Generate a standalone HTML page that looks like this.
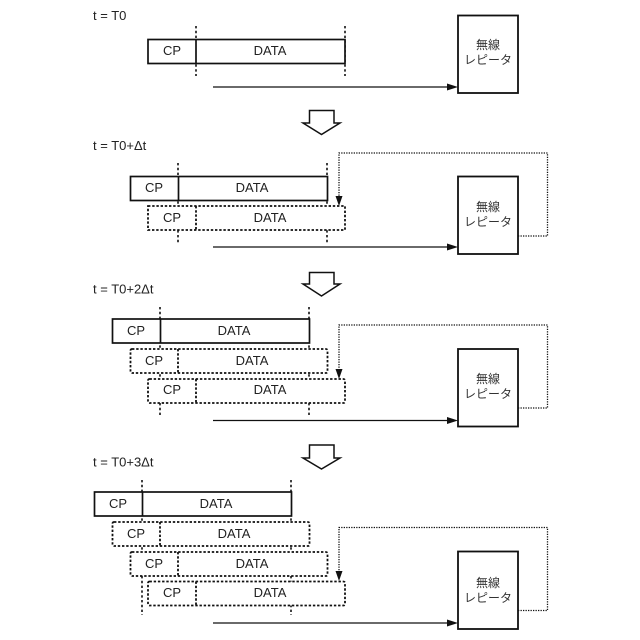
<!DOCTYPE html>
<html><head><meta charset="utf-8"><style>
html,body{margin:0;padding:0;background:#fff}
svg{display:block}
text{font-family:"Liberation Sans","Noto Sans CJK JP",sans-serif;font-size:13px;fill:#222}
text.j{font-size:12px;fill:#333}
.s{fill:#fff;stroke:#111;stroke-width:1.7}
.l{fill:none;stroke:#111;stroke-width:1.7}
.d{fill:#fff;stroke:#111;stroke-width:1.8;stroke-dasharray:2.4 1.8}
.dl{fill:none;stroke:#111;stroke-width:1.8;stroke-dasharray:2.4 1.8}
.v{fill:none;stroke:#111;stroke-width:1.6;stroke-dasharray:2.4 2.4}
.f{fill:none;stroke:#111;stroke-width:1.3;stroke-dasharray:1.3 1.2}
.a{fill:none;stroke:#111;stroke-width:1.3}
.b{fill:#fff;stroke:#111;stroke-width:1.5}
.r{fill:#fff;stroke:#111;stroke-width:1.8}
</style></head><body>
<svg width="640" height="640" viewBox="0 0 640 640" xmlns="http://www.w3.org/2000/svg">
<!-- Panel 0 -->
<text x="93" y="20">t = T0</text>
<path class="v" d="M196 26V76M345 26V76"/>
<rect class="s" x="148" y="39.5" width="197" height="24"/><path class="l" d="M196 39.5V63.5"/>
<text x="172" y="55" text-anchor="middle">CP</text><text x="270" y="55" text-anchor="middle">DATA</text>
<path class="a" d="M213 87H450"/><path d="M447 83.5L458 87L447 90.5Z" fill="#111"/>
<rect class="r" x="458" y="15.5" width="60" height="77.5"/>
<text class="j" x="488" y="49" text-anchor="middle">無線</text><text class="j" x="488" y="64" text-anchor="middle">レピータ</text>
<path class="b" d="M309.500 110.500H334V123H340L321.500 134.500L303 123H309.500Z"/>

<!-- Panel 1 -->
<text x="93" y="150">t = T0+Δt</text>
<path class="v" d="M178 163V243M327 163V243"/>
<rect class="s" x="130.500" y="176.500" width="197" height="24"/><path class="l" d="M178.500 176.500V200.500"/>
<text x="154" y="192" text-anchor="middle">CP</text><text x="252" y="192" text-anchor="middle">DATA</text>
<rect class="d" x="148" y="206" width="197" height="24"/><path class="dl" d="M196 206V230"/>
<text x="172" y="222" text-anchor="middle">CP</text><text x="270" y="222" text-anchor="middle">DATA</text>
<path class="a" d="M213 247H450"/><path d="M447 243.500L458 247L447 250.500Z" fill="#111"/>
<rect class="r" x="458" y="176.500" width="60" height="77.500"/>
<text class="j" x="488" y="211" text-anchor="middle">無線</text><text class="j" x="488" y="226" text-anchor="middle">レピータ</text>
<path class="f" d="M518 236H547.500V153H339V198"/><path d="M335.500 196H342.500L339 206Z" fill="#111"/>
<path class="b" d="M309.500 272.500H334V284H340L321.500 296L303 284H309.500Z"/>

<!-- Panel 2 -->
<text x="93" y="293.500">t = T0+2Δt</text>
<path class="v" d="M160 307V415M309 307V415"/>
<rect class="s" x="112.500" y="319" width="197" height="24"/><path class="l" d="M160.500 319V343"/>
<text x="136" y="335" text-anchor="middle">CP</text><text x="234" y="335" text-anchor="middle">DATA</text>
<rect class="d" x="130.500" y="349" width="197" height="24" rx="1.500"/><path class="dl" d="M178 349V373"/>
<text x="154" y="365" text-anchor="middle">CP</text><text x="252" y="365" text-anchor="middle">DATA</text>
<rect class="d" x="148" y="379" width="197" height="24" rx="1.500"/><path class="dl" d="M196 379V403"/>
<text x="172" y="394" text-anchor="middle">CP</text><text x="270" y="394" text-anchor="middle">DATA</text>
<path class="a" d="M213 420.500H450"/><path d="M447 417L458 420.500L447 424Z" fill="#111"/>
<rect class="r" x="458" y="349" width="60" height="77.500"/>
<text class="j" x="488" y="383" text-anchor="middle">無線</text><text class="j" x="488" y="398" text-anchor="middle">レピータ</text>
<path class="f" d="M518 408H547.500V325H339V371"/><path d="M335.500 369H342.500L339 379Z" fill="#111"/>
<path class="b" d="M309.500 445H334V458H340L321.500 469L303 458H309.500Z"/>

<!-- Panel 3 -->
<text x="93" y="466.500">t = T0+3Δt</text>
<path class="v" d="M142 480V615M291 480V615"/>
<rect class="s" x="94.500" y="492" width="197" height="24"/><path class="l" d="M142.500 492V516"/>
<text x="118" y="508" text-anchor="middle">CP</text><text x="216" y="508" text-anchor="middle">DATA</text>
<rect class="d" x="112.500" y="522" width="197" height="24" rx="1.500"/><path class="dl" d="M160 522V546"/>
<text x="136" y="538" text-anchor="middle">CP</text><text x="234" y="538" text-anchor="middle">DATA</text>
<rect class="d" x="130.500" y="552" width="197" height="24" rx="1.500"/><path class="dl" d="M178 552V576"/>
<text x="154" y="568" text-anchor="middle">CP</text><text x="252" y="568" text-anchor="middle">DATA</text>
<rect class="d" x="148" y="581.500" width="197" height="24" rx="1.500"/><path class="dl" d="M196 581.500V605.500"/>
<text x="172" y="597" text-anchor="middle">CP</text><text x="270" y="597" text-anchor="middle">DATA</text>
<path class="a" d="M213 623H450"/><path d="M447 619.500L458 623L447 626.500Z" fill="#111"/>
<rect class="r" x="458" y="551.500" width="60" height="77.500"/>
<text class="j" x="488" y="587" text-anchor="middle">無線</text><text class="j" x="488" y="602" text-anchor="middle">レピータ</text>
<path class="f" d="M518 610.500H547.500V527.500H339V573"/><path d="M335.500 571H342.500L339 581Z" fill="#111"/>
</svg>
</body></html>
